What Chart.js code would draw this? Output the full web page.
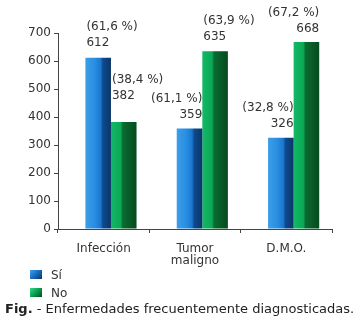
<!DOCTYPE html>
<html>
<head>
<meta charset="utf-8">
<script src="https://cdn.jsdelivr.net/npm/chart.js@4/dist/chart.umd.min.js"></script>
<style>
  body { margin: 0; background: #fff; font-family: "DejaVu Sans", Verdana, sans-serif; }
  #wrap { position: relative; width: 362px; height: 327px; }
  #c { position: absolute; left: 0; top: 0; }
  .leg { position: absolute; left: 30px; font-size: 12px; color: #333; }
  .leg span { display: inline-block; width: 12px; height: 9px; margin-right: 9px; vertical-align: 0px; }
  #cap { position: absolute; left: 5px; top: 301px; font-size: 13px; color: #222; white-space: nowrap; }
</style>
</head>
<body>
<div id="wrap">
  <canvas id="c" width="362" height="327"></canvas>
  <div class="leg" style="top:268px"><span style="background:linear-gradient(135deg,#3fa2ec,#1a6fc4 45%,#0a3566)"></span>Sí</div>
  <div class="leg" style="top:286px"><span style="background:linear-gradient(135deg,#3ad48a,#0aa552 45%,#064a1e)"></span>No</div>
  <div id="cap"><b>Fig.</b> - Enfermedades frecuentemente diagnosticadas.</div>
</div>
<script>
const categories = [["Infección"], ["Tumor", "maligno"], ["D.M.O."]];
const siValues = [612, 359, 326];
const noValues = [382, 635, 668];
const siPercent = ["(61,6 %)", "(61,1 %)", "(32,8 %)"];
const noPercent = ["(38,4 %)", "(63,9 %)", "(67,2 %)"];
const yTicks = [0, 100, 200, 300, 400, 500, 600, 700];

const catPct = 0.56;
const depthShift = 0.08; // the 3d bars sit a little right of the category centres

const toPoints = vals => vals.map((v, i) => ({ x: i, y: v }));

// horizontal shading per bar, taken from the bar scale
const shade = (stops, datasetIndex) => (c) => {
    const chart = c.chart;
    if (!chart.chartArea) return stops[1][1];
    const xs = chart.scales.xb;
    const cw = xs.getPixelForValue(1) - xs.getPixelForValue(0);
    const center = xs.getPixelForValue(c.dataIndex);
    const w = cw * catPct / 2;
    const left = center - w + datasetIndex * w;
    const g = chart.ctx.createLinearGradient(left, 0, left + w, 0);
    stops.forEach(s => g.addColorStop(s[0], s[1]));
    return g;
};

const blueStops = [[0, "#3b9ee8"], [0.35, "#2a8fe2"], [0.6, "#1877cf"], [0.68, "#0e4a8e"], [1, "#0a3668"]];
const greenStops = [[0, "#13b868"], [0.38, "#0aa955"], [0.46, "#0a6c30"], [1, "#064a1e"]];

const labelPlugin = {
    id: 'barLabels',
    afterDatasetsDraw(chart, args, opts) {
        const ctx = chart.ctx;
        ctx.save();
        ctx.font = '12px "DejaVu Sans", Verdana, sans-serif';
        ctx.fillStyle = '#333';
        ctx.textBaseline = 'alphabetic';
        const pct = [siPercent, noPercent];
        chart.data.datasets.forEach((ds, di) => {
            chart.getDatasetMeta(di).data.forEach((bar, i) => {
                const al = opts.align[di][i];
                const lift = opts.lift[di][i];
                const half = bar.width / 2;
                let x;
                if (al === 'left') { ctx.textAlign = 'left'; x = bar.x - half + 1; }
                else { ctx.textAlign = 'right'; x = bar.x + half; }
                const base = bar.y - lift;
                ctx.fillText(String(ds.data[i].y), x, base);
                ctx.fillText(pct[di][i], x, base - 16);
            });
        });
        ctx.restore();
    }
};

new Chart(document.getElementById('c'), {
    type: 'bar',
    data: {
        labels: categories,
        datasets: [
            { label: 'Sí', data: toPoints(siValues), xAxisID: 'xb', backgroundColor: shade(blueStops, 0) },
            { label: 'No', data: toPoints(noValues), xAxisID: 'xb', backgroundColor: shade(greenStops, 1) }
        ]
    },
    options: {
        responsive: false,
        animation: false,
        layout: { padding: { top: 33, right: 30, left: 0, bottom: 0 } },
        datasets: { bar: { categoryPercentage: catPct, barPercentage: 1 } },
        plugins: {
            legend: { display: false },
            tooltip: { enabled: false },
            barLabels: {
                align: [['left', 'right', 'right'], ['left', 'left', 'right']],
                lift: [[12, 10, 11], [23, 11, 10]]
            }
        },
        scales: {
            x: {
                type: 'category',
                grid: { display: true, drawOnChartArea: false, offset: true, tickLength: 4, color: '#444' },
                border: { color: '#444' },
                ticks: { color: '#333', font: { family: 'DejaVu Sans', size: 12, lineHeight: 1.0 }, padding: 10, maxRotation: 0 },
                afterFit: s => { s.height = 98; }
            },
            xb: {
                type: 'linear',
                display: false,
                offset: false,
                min: -0.5 - depthShift,
                max: 2.5 - depthShift,
                afterBuildTicks: s => { s.ticks = categories.map((c, i) => ({ value: i })); }
            },
            y: {
                min: 0, max: 700,
                afterBuildTicks: s => { s.ticks = yTicks.map(v => ({ value: v })); },
                grid: { display: true, drawOnChartArea: false, tickLength: 4, color: '#444' },
                border: { color: '#444' },
                ticks: { color: '#333', font: { family: 'DejaVu Sans', size: 12 }, padding: 3 },
                afterFit: s => { s.width = 58; }
            }
        }
    },
    plugins: [labelPlugin]
});
</script>
</body>
</html>
